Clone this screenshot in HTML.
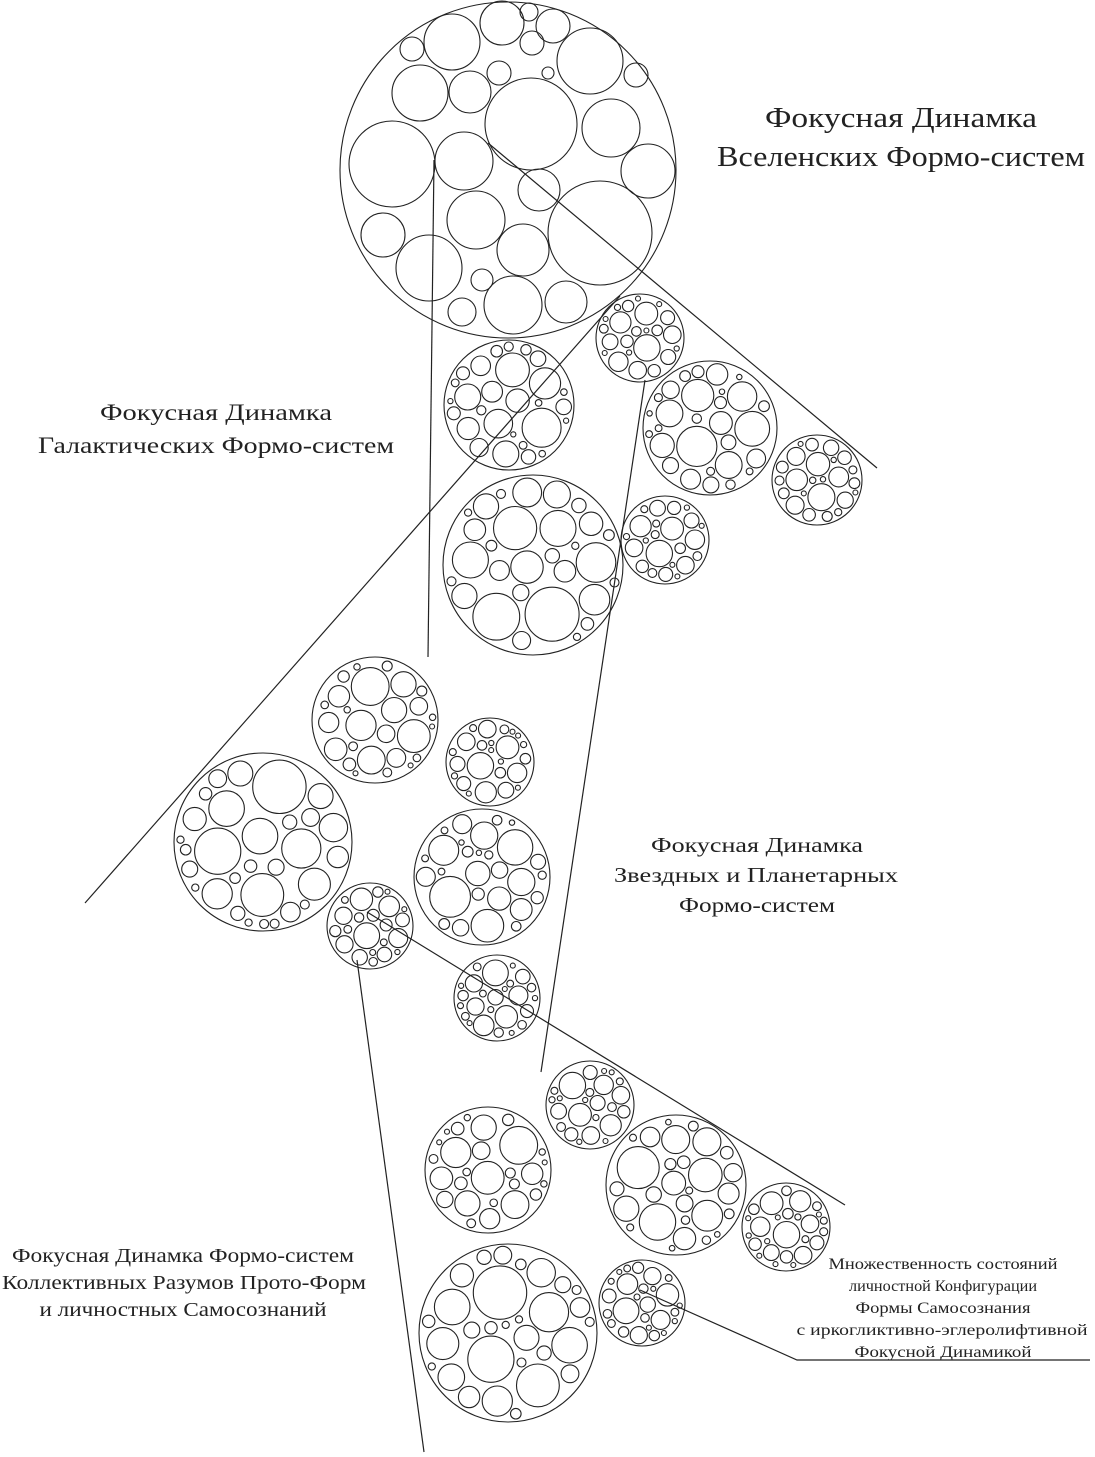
<!DOCTYPE html>
<html><head><meta charset="utf-8">
<style>
html,body{margin:0;padding:0;background:#fff;}
svg{display:block;}
text{font-family:"Liberation Serif","DejaVu Serif",serif;fill:#222;}
</style></head>
<body>
<svg id="s" width="1095" height="1457" viewBox="0 0 1095 1457" xmlns="http://www.w3.org/2000/svg">
<g fill="none" stroke="#222" stroke-width="1.2" id="lines">
<line x1="434" y1="160" x2="428" y2="657"/>
<line x1="488" y1="143" x2="877" y2="468"/>
<line x1="85" y1="903" x2="620" y2="296"/>
<line x1="645" y1="380" x2="541" y2="1072"/>
<line x1="367" y1="912" x2="845" y2="1205"/>
<line x1="357" y1="960" x2="424" y2="1452"/>
<polyline points="640,1290 797,1360 1090,1360"/>
</g>
<g fill="none" stroke="#222" stroke-width="1.1" id="circ"></g>
<g font-size="28" text-anchor="middle">
<text x="901" y="127" textLength="272" lengthAdjust="spacingAndGlyphs">Фокусная Динамка</text>
<text x="901" y="166" textLength="368" lengthAdjust="spacingAndGlyphs">Вселенских Формо-систем</text>
</g>
<g font-size="23" text-anchor="middle">
<text x="216" y="420" textLength="232" lengthAdjust="spacingAndGlyphs">Фокусная Динамка</text>
<text x="216" y="453" textLength="356" lengthAdjust="spacingAndGlyphs">Галактических Формо-систем</text>
</g>
<g font-size="21" text-anchor="middle">
<text x="757" y="852" textLength="212" lengthAdjust="spacingAndGlyphs">Фокусная Динамка</text>
<text x="756" y="882" textLength="284" lengthAdjust="spacingAndGlyphs">Звездных и Планетарных</text>
<text x="757" y="912" textLength="156" lengthAdjust="spacingAndGlyphs">Формо-систем</text>
</g>
<g font-size="20" text-anchor="middle">
<text x="183" y="1262" textLength="342" lengthAdjust="spacingAndGlyphs">Фокусная Динамка Формо-систем</text>
<text x="184" y="1289" textLength="364" lengthAdjust="spacingAndGlyphs">Коллективных Разумов Прото-Форм</text>
<text x="183" y="1316" textLength="287" lengthAdjust="spacingAndGlyphs">и личностных Самосознаний</text>
</g>
<g font-size="15.5" text-anchor="middle">
<text x="943" y="1269" textLength="229" lengthAdjust="spacingAndGlyphs">Множественность состояний</text>
<text x="943" y="1291" textLength="188" lengthAdjust="spacingAndGlyphs">личностной Конфигурации</text>
<text x="943" y="1313" textLength="175" lengthAdjust="spacingAndGlyphs">Формы Самосознания</text>
<text x="942" y="1335" textLength="291" lengthAdjust="spacingAndGlyphs">с иркогликтивно-эглеролифтивной</text>
<text x="943" y="1357" textLength="177" lengthAdjust="spacingAndGlyphs">Фокусной Динамикой</text>
</g>
</svg>
<script>
(function(){
var g=document.getElementById('circ');
function c(x,y,r){var e=document.createElementNS('http://www.w3.org/2000/svg','circle');e.setAttribute('cx',x);e.setAttribute('cy',y);e.setAttribute('r',r);g.appendChild(e);}
var seed=12345;function rnd(){seed=(seed*16807)%2147483647;return seed/2147483647;}
c(508,170,168);
var top=[[452,42,28],[412,49,12],[502,23,22],[529,12,9],[553,26,17],[532,43,12],[499,73,12],[548,73,6],[590,61,33],[636,75,12],[420,93,28],[470,92,21],[531,124,46],[611,128,29],[392,164,43],[464,161,29],[648,171,27],[539,190,21],[476,220,29],[600,233,52],[383,235,22],[429,268,33],[523,250,26],[482,280,11],[513,305,29],[566,302,21],[462,312,14]];
top.forEach(function(a){c(a[0],a[1],a[2]);});
function pack(X,Y,R){
  c(X,Y,R);
  var placed=[];
  var sizes=[0.3,0.26,0.24,0.22,0.2,0.2,0.18,0.17,0.16,0.15,0.14,0.14,0.13,0.12,0.12,0.11,0.1,0.1,0.09,0.09,0.08,0.08,0.07,0.07,0.06,0.06,0.05,0.05,0.05,0.04,0.04,0.04];
  sizes.forEach(function(f){
    var r=f*R; if(r<2.5)r=2.5;
    for(var t=0;t<400;t++){
      var a=rnd()*Math.PI*2, d=Math.sqrt(rnd())*(R-r-2);
      var x=X+Math.cos(a)*d,y=Y+Math.sin(a)*d,ok=true;
      for(var i=0;i<placed.length;i++){var p=placed[i];var dx=p[0]-x,dy=p[1]-y;if(Math.sqrt(dx*dx+dy*dy)<p[2]+r+1.5){ok=false;break;}}
      if(ok){placed.push([x,y,r]);c(x.toFixed(1),y.toFixed(1),r.toFixed(1));break;}
    }
  });
}
[[509,405,65],[640,338,44],[710,428,67],[817,480,45],[533,565,90],[665,540,44],[375,720,63],[490,762,44],[263,842,89],[482,877,68],[370,926,43],[497,998,43],[590,1105,44],[488,1170,63],[676,1185,70],[786,1227,44],[508,1333,89],[642,1303,43]].forEach(function(a){pack(a[0],a[1],a[2]);});
})();
</script>
</body></html>
